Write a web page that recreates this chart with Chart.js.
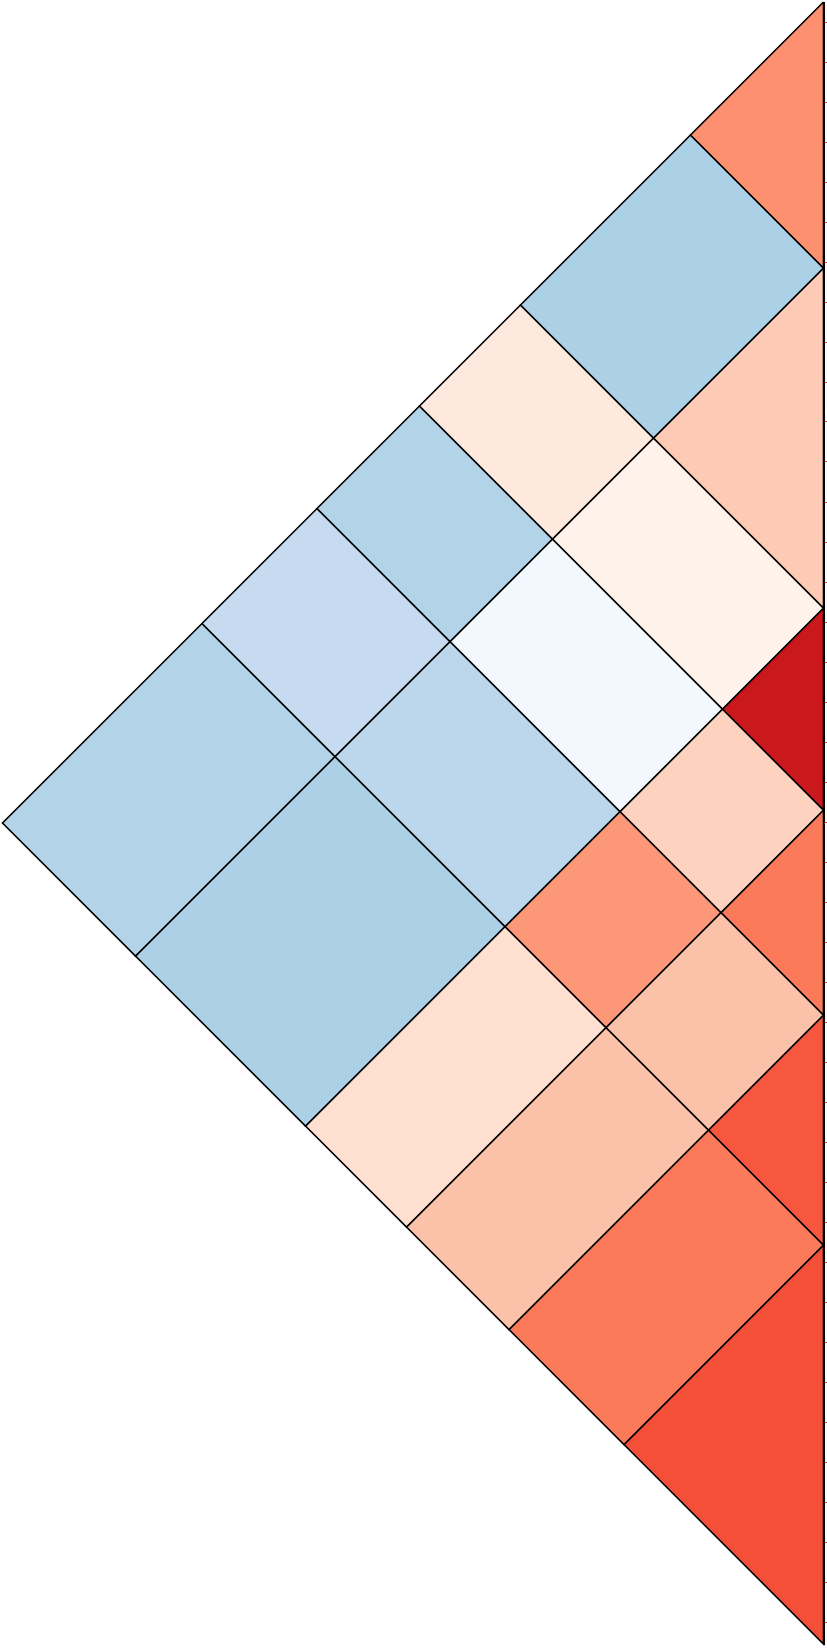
<!DOCTYPE html>
<html>
<head>
<meta charset="utf-8">
<script src="https://cdn.jsdelivr.net/npm/chart.js@4.4.1/dist/chart.umd.min.js"></script>
<style>
html,body{margin:0;padding:0;background:#fff;overflow:hidden}
canvas{display:block}
</style>
</head>
<body>
<canvas id="c" width="827" height="1648"></canvas>
<script>
// Bin edges along the vertical (position) axis
const binEdges = [0, 266, 606, 808, 1013, 1243, 1642];
// Upper-triangle values: rowK[m] is cell (K, K+m)
const row0 = [0.38, -0.33, 0.07, -0.31, -0.25, -0.31];
const row1 = [0.20, 0.02, -0.02, -0.28, -0.33];
const row2 = [0.75, 0.17, 0.36, 0.13];
const row3 = [0.45, 0.23, 0.23];
const row4 = [0.55, 0.45];
const row5 = [0.57];
const rows = [row0, row1, row2, row3, row4, row5];
// Tick axis on the right edge
const tickStep = 40;
const tickStart = -20;

const redsPalette = ['#fff5f0','#fee0d2','#fcbba1','#fc9272','#fb6a4a','#ef3b2c','#cb181d','#a50f15','#67000d'];
const bluesPalette = ['#f7fbff','#deebf7','#c6dbef','#9ecae1','#6baed6','#4292c6','#2171b5','#08519c','#08306b'];

function hexToRgb(h){return [parseInt(h.slice(1,3),16),parseInt(h.slice(3,5),16),parseInt(h.slice(5,7),16)];}
function colorFor(v){
  const pal = v >= 0 ? redsPalette : bluesPalette;
  const t = Math.min(1, Math.abs(v)) * (pal.length - 1);
  const i = Math.min(pal.length - 2, Math.floor(t));
  const f = t - i;
  const a = hexToRgb(pal[i]), b = hexToRgb(pal[i+1]);
  const c = a.map((x, k) => Math.round(x + (b[k] - x) * f));
  return 'rgb(' + c.join(',') + ')';
}

// map a pair of positions (a <= b) to rotated coordinates
function pt(a, b){ return {x: (b - a) / 2, y: (a + b) / 2}; }

const n = binEdges.length - 1;
const datasets = [];
for (let i = 0; i < n; i++) {
  for (let j = i; j < n; j++) {
    const v = rows[i][j - i];
    const p = binEdges;
    let pts;
    if (i === j) {
      pts = [pt(p[i], p[i]), pt(p[i+1], p[i+1]), pt(p[i], p[i+1]), pt(p[i], p[i])];
    } else {
      pts = [pt(p[i], p[j]), pt(p[i+1], p[j]), pt(p[i+1], p[j+1]), pt(p[i], p[j+1]), pt(p[i], p[j])];
    }
    datasets.push({
      data: pts,
      showLine: true,
      fill: 'shape',
      backgroundColor: colorFor(v),
      borderColor: '#000',
      borderWidth: 1.6,
      pointRadius: 0,
      pointHoverRadius: 0,
      tension: 0,
      clip: false,
      xAxisID: 'x',
      yAxisID: 'y'
    });
  }
}

const span = binEdges[binEdges.length - 1];
new Chart(document.getElementById('c').getContext('2d'), {
  type: 'scatter',
  data: { datasets },
  options: {
    responsive: false,
    animation: false,
    devicePixelRatio: 1,
    events: [],
    layout: { autoPadding: false, padding: { left: 2.5, right: 0, top: 2, bottom: 4 } },
    plugins: { legend: { display: false }, tooltip: { enabled: false } },
    scales: {
      x: { type: 'linear', display: false, min: -1, max: span / 2, reverse: true },
      y: { type: 'linear', display: false, min: 0, max: span, reverse: true },
      yt: {
        type: 'linear', position: 'right', min: tickStart, max: span + tickStart, reverse: true,
        ticks: { display: false, stepSize: tickStep, includeBounds: false },
        grid: { drawOnChartArea: false, drawTicks: true, tickLength: 2.5, color: '#d9342b', lineWidth: 1 },
        border: { display: true, color: '#000', width: 1, dash: [1, 1], z: 1 }
      }
    }
  }
});
</script>
</body>
</html>
